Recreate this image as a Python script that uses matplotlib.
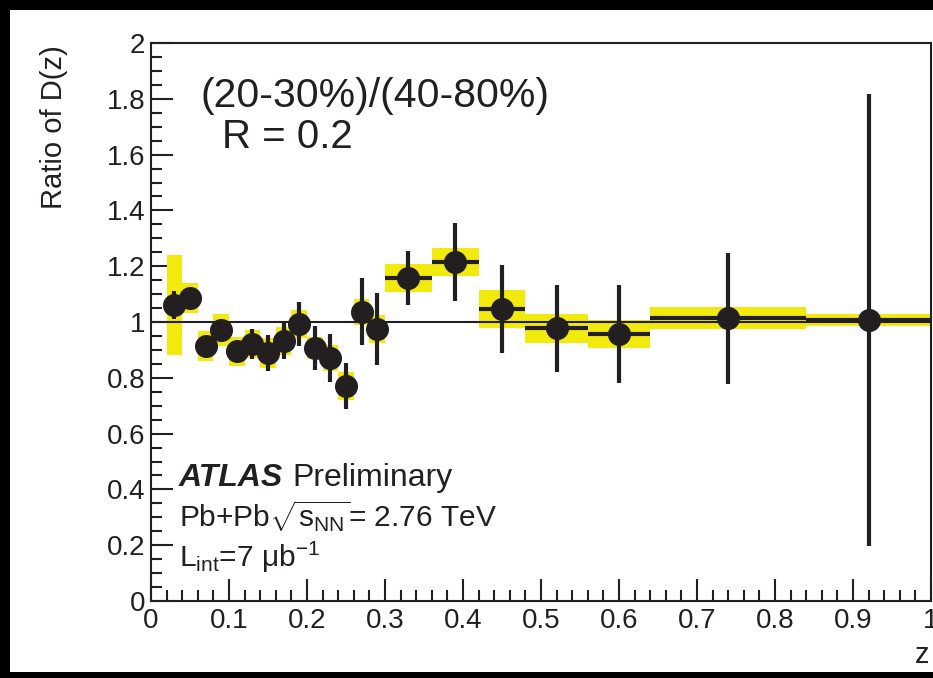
import matplotlib
matplotlib.use("Agg")
import matplotlib.pyplot as plt
from matplotlib.patches import Rectangle
from matplotlib.ticker import MultipleLocator, FuncFormatter
import numpy as np

plt.rcParams['font.family'] = ['Liberation Sans', 'DejaVu Sans']
plt.rcParams['mathtext.fontset'] = 'custom'
plt.rcParams['mathtext.rm'] = 'Liberation Sans'
plt.rcParams['mathtext.it'] = 'Liberation Sans:italic'
plt.rcParams['mathtext.bf'] = 'Liberation Sans:bold'

# z bin edges of the fragmentation function
bin_edges = [0.02, 0.04, 0.06, 0.08, 0.10, 0.12, 0.14, 0.16, 0.18, 0.20, 0.22,
             0.24, 0.26, 0.28, 0.30, 0.36, 0.42, 0.48, 0.56, 0.64, 0.84, 1.00]
# ratio of D(z), central-to-peripheral
ratio = [1.061, 1.086, 0.914, 0.971, 0.896, 0.921, 0.889, 0.932, 0.993, 0.907,
         0.871, 0.771, 1.036, 0.975, 1.158, 1.215, 1.047, 0.978, 0.957, 1.014, 1.007]
# statistical uncertainties
stat_err = [0.050, 0.035, 0.035, 0.040, 0.035, 0.054, 0.066, 0.065, 0.080, 0.080,
            0.085, 0.083, 0.120, 0.130, 0.097, 0.140, 0.157, 0.156, 0.174, 0.235, 0.810]
# systematic uncertainties
sys_err = [0.180, 0.052, 0.052, 0.058, 0.052, 0.050, 0.055, 0.050, 0.050, 0.040,
           0.045, 0.050, 0.045, 0.050, 0.050, 0.050, 0.067, 0.052, 0.050, 0.040, 0.020]

x_ticks = [0, 0.1, 0.2, 0.3, 0.4, 0.5, 0.6, 0.7, 0.8, 0.9, 1]
y_ticks = [0, 0.2, 0.4, 0.6, 0.8, 1, 1.2, 1.4, 1.6, 1.8, 2]

edges = np.array(bin_edges)
lo, hi = edges[:-1], edges[1:]
z = 0.5 * (lo + hi)
half_w = 0.5 * (hi - lo)
ratio = np.array(ratio)
stat_err = np.array(stat_err)
sys_err = np.array(sys_err)

W, H = 933, 678
fig = plt.figure(figsize=(W / 100, H / 100), dpi=100, facecolor='black')
# white canvas inside the black border
fig.patches.append(Rectangle((10 / W, 6 / H), 1 - 10 / W, 1 - 16 / H,
                             transform=fig.transFigure, facecolor='white',
                             edgecolor='none', zorder=-10))

ax = fig.add_axes([151 / W, 77 / H, 780 / W, 558 / H])
ax.set_zorder(1)
ax.set_facecolor('none')
ax.set_xlim(0, 1)
ax.set_ylim(0, 2)

ink = '#231f20'
yellow = '#f2ea0c'

# systematic boxes
for xl, xh, y, s in zip(lo, hi, ratio, sys_err):
    ax.add_patch(Rectangle((xl, y - s), xh - xl, 2 * s, facecolor=yellow,
                           edgecolor='none', zorder=2))

# unity reference line
ax.axhline(1.0, color=ink, lw=1.5, zorder=2.5)

# statistical error bars and markers
ax.errorbar(z, ratio, xerr=half_w, yerr=stat_err, fmt='none', ecolor=ink,
            elinewidth=3.0, capsize=0, zorder=3)
ax.plot(z, ratio, 'o', color=ink, markersize=16.6, markeredgewidth=0, zorder=4)

# axes styling
for sp in ax.spines.values():
    sp.set_linewidth(1.5)
    sp.set_color(ink)
ax.set_xticks(x_ticks)
ax.set_yticks(y_ticks)
ax.xaxis.set_minor_locator(MultipleLocator(0.02))
ax.yaxis.set_minor_locator(MultipleLocator(0.05))
fmt = FuncFormatter(lambda v, p: f"{round(v, 2):g}")
ax.xaxis.set_major_formatter(fmt)
ax.yaxis.set_major_formatter(fmt)
ax.tick_params(which='both', direction='in', top=False, right=False,
               color=ink, width=1.5, labelsize=20, labelcolor=ink)
ax.tick_params(axis='y', which='major', length=16, pad=4)
ax.tick_params(axis='y', which='minor', length=8)
ax.tick_params(axis='x', which='major', length=16, pad=5)
ax.tick_params(axis='x', which='minor', length=8)

# axis titles
fig.text(54 / W, 1 - 45 / H, 'Ratio of D(z)', rotation=90, ha='center',
         va='top', fontsize=21, color=ink)
fig.text(929 / W, 1 - 655 / H, 'z', ha='right', va='center', fontsize=21,
         color=ink)

# annotations
ax.text(0.063, 1.81, '(20-30%)/(40-80%)', fontsize=29.5, color=ink,
        ha='left', va='center')
ax.text(0.091, 1.663, 'R = 0.2', fontsize=29, color=ink, ha='left', va='center')

ax.text(0.036, 0.412, 'ATLAS', fontsize=23, fontweight='bold', fontstyle='italic',
        color=ink, ha='left', va='baseline')
ax.text(0.036 + 0.145, 0.412, 'Preliminary', fontsize=23, color=ink,
        ha='left', va='baseline')
ax.text(0.036, 0.265, r'Pb+Pb$\sqrt{\mathrm{s}_{\mathrm{NN}}}$= 2.76 TeV',
        fontsize=21.5, color=ink, ha='left', va='baseline')
ax.text(0.036, 0.122, 'L$_{\\mathrm{int}}$=7 \u03bcb$^{-1}$', fontsize=21.5,
        color=ink, ha='left', va='baseline')

fig.savefig('out.png', dpi=100, facecolor=fig.get_facecolor())
